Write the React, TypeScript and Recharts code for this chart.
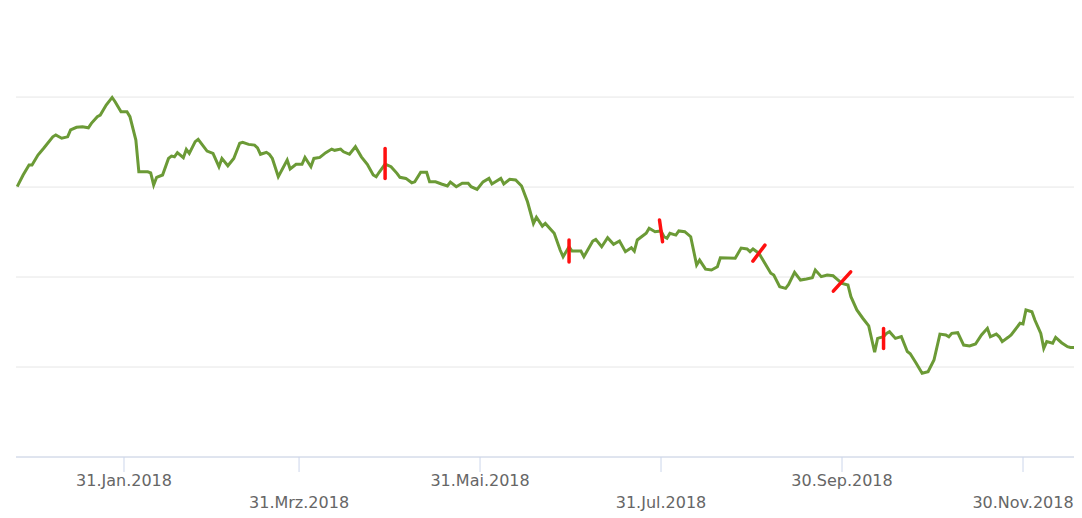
import React from 'react';
import { ComposedChart, Line, Scatter, XAxis, YAxis, CartesianGrid } from 'recharts';

// trading days, counted from 1 Jan 2018 (= 0)
const days = [
  -6, -4, -2, -1, 1, 3, 6, 7, 9, 11,
  12, 14, 16, 18, 19, 21, 22, 24, 26, 27,
  29, 31, 32, 34, 35, 38, 39, 40, 41, 43,
  45, 46, 47, 48, 50, 51, 52, 54, 55, 58,
  60, 62, 63, 65, 67, 69, 70, 72, 74, 75,
  76, 78, 79, 80, 82, 85, 86, 88, 90, 91,
  93, 94, 96, 98, 100, 101, 103, 104, 106, 108,
  110, 112, 114, 115, 116, 118, 120, 122, 123, 125,
  127, 128, 130, 132, 133, 135, 137, 139, 140, 142,
  144, 146, 147, 149, 151, 153, 154, 157, 158, 160,
  162, 164, 166, 168, 169, 171, 172, 174, 175, 177,
  178, 180, 181, 184, 185, 188, 189, 191, 193, 195,
  197, 199, 201, 202, 203, 206, 207, 209, 211, 212,
  213, 214, 216, 217, 219, 221, 223, 224, 226, 228,
  230, 231, 236, 238, 240, 241, 242, 244, 246, 248,
  249, 251, 253, 254, 256, 258, 260, 262, 263, 265,
  267, 269, 270, 272, 274, 275, 277, 279, 281, 283,
  284, 286, 287, 288, 290, 292, 294, 295, 297, 299,
  301, 303, 305, 307, 308, 309, 311, 313, 315, 317,
  319, 321, 322, 324, 325, 326, 328, 329, 332, 333,
  334, 336, 337, 339, 340, 341, 343, 344, 346, 348,
  349, 351,
];

const prices = [
  35.02, 35.67, 36.22, 36.22, 36.78, 37.17, 37.79, 37.89, 37.71, 37.79,
  38.17, 38.32, 38.35, 38.29, 38.54, 38.91, 39.0, 39.56, 39.98, 39.74,
  39.18, 39.18, 38.91, 37.61, 35.85, 35.85, 35.79, 35.11, 35.54, 35.67,
  36.59, 36.72, 36.68, 36.91, 36.63, 37.09, 36.87, 37.52, 37.65, 37.0,
  36.87, 36.13, 36.59, 36.18, 36.59, 37.43, 37.48, 37.37, 37.33, 37.18,
  36.82, 36.93, 36.82, 36.59, 35.57, 36.5, 36.0, 36.26, 36.26, 36.65,
  36.13, 36.59, 36.65, 36.91, 37.11, 37.04, 37.11, 36.96, 36.82, 37.24,
  36.68, 36.26, 35.67, 35.57, 35.82, 36.28, 36.13, 35.76, 35.54, 35.48,
  35.24, 35.29, 35.82, 35.82, 35.29, 35.29, 35.17, 35.06, 35.28, 35.02,
  35.21, 35.21, 35.02, 34.87, 35.29, 35.48, 35.17, 35.48, 35.17, 35.43,
  35.39, 35.06, 34.18, 32.98, 33.32, 32.83, 32.98, 32.61, 32.43, 31.5,
  31.13, 31.68, 31.44, 31.44, 31.13, 32.0, 32.09, 31.68, 32.18, 31.82,
  32.0, 31.41, 31.63, 31.44, 32.06, 32.43, 32.71, 32.52, 32.56, 32.24,
  32.15, 32.43, 32.33, 32.56, 32.52, 32.24, 30.67, 30.94, 30.44, 30.39,
  30.57, 31.07, 31.04, 31.61, 31.56, 31.41, 31.56, 31.32, 30.76, 30.21,
  30.11, 29.46, 29.37, 29.59, 30.26, 29.83, 29.89, 29.96, 30.39, 30.02,
  30.11, 30.07, 29.93, 29.65, 29.56, 28.91, 28.17, 27.71, 27.29, 25.82,
  26.59, 26.68, 26.87, 26.96, 26.59, 26.69, 25.86, 25.74, 25.21, 24.65,
  24.74, 25.39, 26.83, 26.78, 26.68, 26.87, 26.91, 26.22, 26.17, 26.28,
  26.78, 27.15, 26.68, 26.83, 26.68, 26.41, 26.65, 26.78, 27.43, 27.39,
  28.17, 28.07, 27.61, 26.87, 26.04, 26.41, 26.32, 26.65, 26.35, 26.13,
  26.09, 26.09,
];

// red hand marks on the line
const eventDays = [118, 180, 211, 244, 272, 286];
const eventPrices = [36.31, 31.44, 32.56, 31.33, 29.75, 26.58];

const tickDays = [30, 89, 150, 211, 272, 333];
const tickLabels = ['31.Jan.2018', '31.Mrz.2018', '31.Mai.2018', '31.Jul.2018', '30.Sep.2018', '30.Nov.2018'];
const gridPrices = [20, 25, 30, 35, 40, 45];

// look of the marks (degrees from vertical, length in px)
const markTilt = [0, 0, -8, 37, 42, 0];
const markLen = [30, 22, 22, 20, 26, 20];

const data = days.map((d, i) => ({ day: d, price: prices[i] }));
const marks = eventDays.map((d, i) => ({ day: d, price: eventPrices[i], tilt: markTilt[i], len: markLen[i] }));

const StaggerTick = (props: any) => {
  const { x, y, payload } = props;
  const i = tickDays.indexOf(payload.value);
  return (
    <text
      x={x}
      y={y + (i % 2 ? 36 : 14)}
      textAnchor="middle"
      fill="#666666"
      fontSize={16}
      fontFamily="DejaVu Sans"
    >
      {tickLabels[i]}
    </text>
  );
};

const Mark = (props: any) => {
  const { cx, cy, payload } = props;
  const a = (payload.tilt * Math.PI) / 180;
  const dx = (Math.sin(a) * payload.len) / 2;
  const dy = (Math.cos(a) * payload.len) / 2;
  return (
    <line
      x1={cx - dx}
      y1={cy + dy}
      x2={cx + dx}
      y2={cy - dy}
      stroke="#ff1010"
      strokeWidth={3.5}
      strokeLinecap="round"
    />
  );
};

export default function App() {
  return (
    <div style={{ marginTop: -8, marginLeft: -8, background: '#fff', position: 'relative' }}>
      {/* top grid row: recharts would not draw it at the plot edge */}
      <div
        style={{
          position: 'absolute',
          top: 6,
          left: 16,
          width: 1061,
          height: 1,
          background: '#e6e6e6',
          zIndex: 1,
        }}
      />
      <ComposedChart
        width={1082}
        height={518}
        data={data}
        margin={{ top: 6, right: 5, bottom: 0, left: 16 }}
      >
        <CartesianGrid vertical={false} stroke="#e6e6e6" />
        <XAxis
          dataKey="day"
          type="number"
          domain={[-6.4, 351.2]}
          allowDataOverflow
          ticks={tickDays}
          interval={0}
          height={61}
          tickSize={15}
          tickMargin={0}
          axisLine={{ stroke: '#ccd6eb' }}
          tickLine={{ stroke: '#ccd6eb' }}
          tick={<StaggerTick />}
        />
        <YAxis hide domain={[20, 45.06]} allowDataOverflow ticks={gridPrices} width={0} />
        <Line
          type="linear"
          dataKey="price"
          stroke="#6b9a36"
          strokeWidth={3}
          dot={false}
          isAnimationActive={false}
        />
        <Scatter data={marks} dataKey="price" shape={<Mark />} isAnimationActive={false} />
      </ComposedChart>
    </div>
  );
}
